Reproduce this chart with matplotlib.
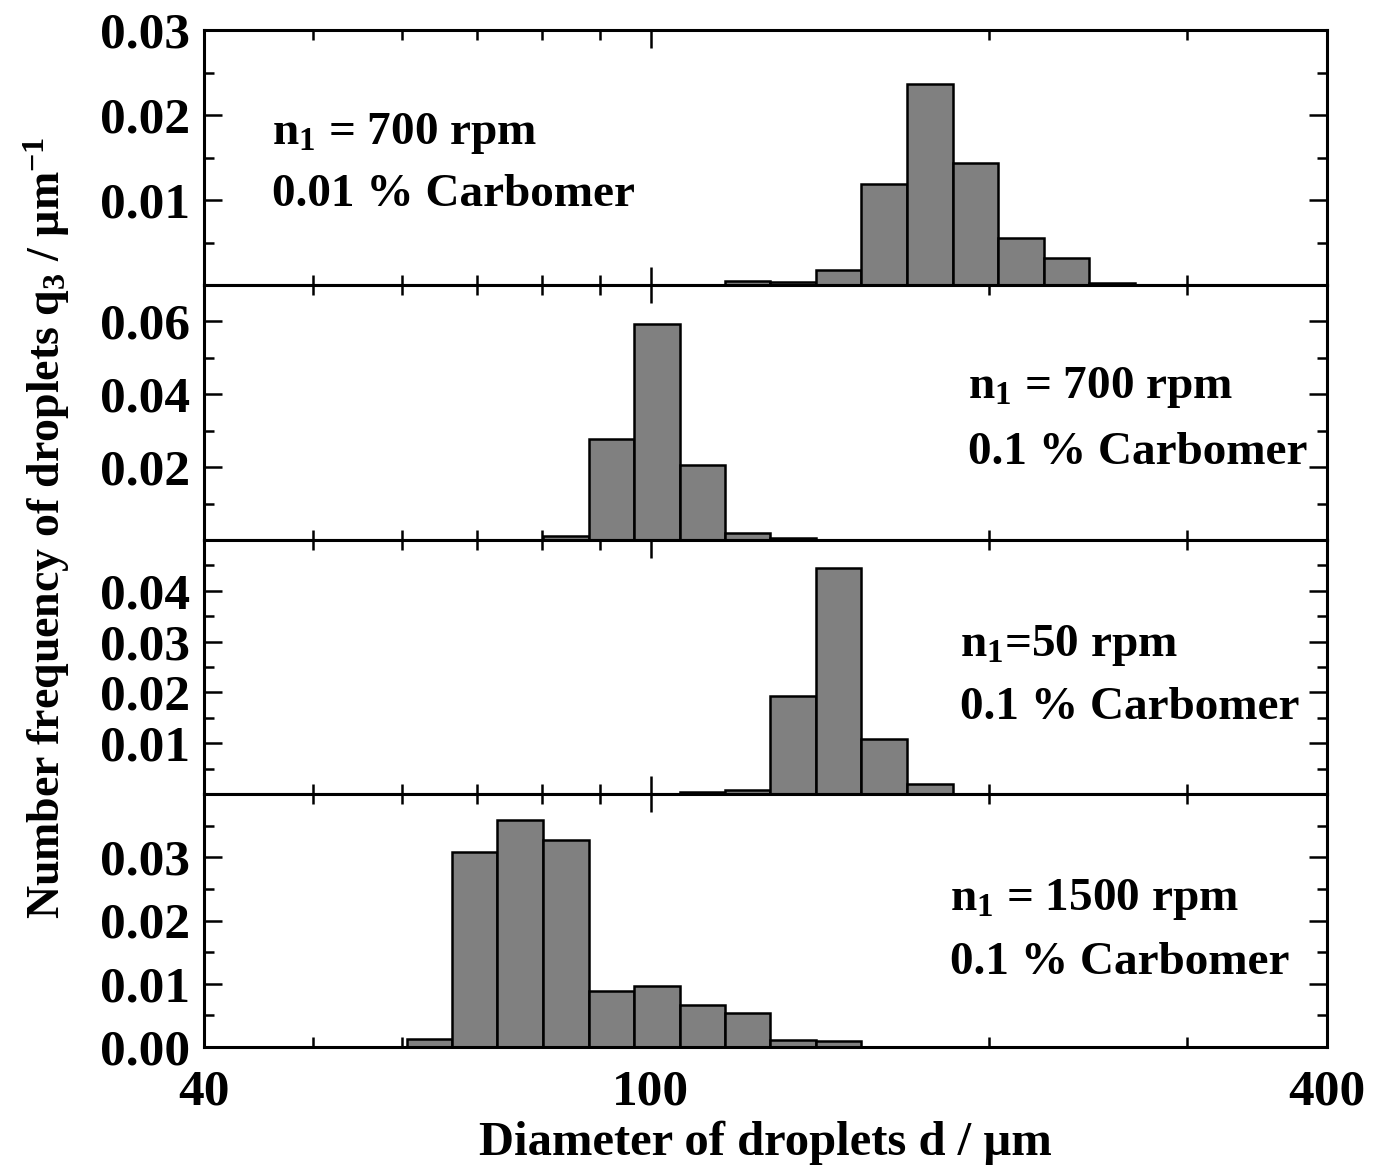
import numpy as np
import matplotlib
matplotlib.use("Agg")
import matplotlib.pyplot as plt
from matplotlib.ticker import FixedLocator, NullFormatter, MultipleLocator, FormatStrFormatter

plt.rcParams['font.family'] = ['Liberation Serif', 'DejaVu Serif']
plt.rcParams['font.weight'] = 'bold'
plt.rcParams['mathtext.default'] = 'regular'

# bin edges of droplet diameter, um (log spaced)
edges = [60.6, 66.5, 72.9, 80.1, 88.1, 96.6, 106.2, 116.4, 127.7, 140.3,
         154.0, 169.1, 185.8, 203.7, 223.9, 245.6, 269.8]

# number frequency q3 per bin, 1/um
q_700_001 = [0, 0, 0, 0, 0, 0, 0, 0.0005, 0.0003, 0.0018, 0.0119, 0.0236, 0.0143, 0.0055, 0.0032, 0.0002]
q_700_01 = [0, 0, 0, 0.0011, 0.0277, 0.0592, 0.0205, 0.0020, 0.0006, 0, 0, 0, 0, 0, 0, 0]
q_50_01 = [0, 0, 0, 0, 0, 0, 0.0003, 0.0008, 0.0193, 0.0444, 0.0109, 0.0020, 0, 0, 0, 0]
q_1500_01 = [0.0012, 0.0308, 0.0359, 0.0327, 0.0089, 0.0097, 0.0067, 0.0053, 0.0011, 0.0009, 0, 0, 0, 0, 0, 0]

series = [q_700_001, q_700_01, q_50_01, q_1500_01]
ylims = [0.03, 0.07, 0.05, 0.04]
ymajor = [[0.01, 0.02, 0.03], [0.02, 0.04, 0.06], [0.01, 0.02, 0.03, 0.04], [0.0, 0.01, 0.02, 0.03]]
yminor = [0.005, 0.01, 0.005, 0.005]
labels = [("n$_1$ = 700 rpm", "0.01 % Carbomer"),
          ("n$_1$ = 700 rpm", "0.1 % Carbomer"),
          ("n$_1$=50 rpm", "0.1 % Carbomer"),
          ("n$_1$ = 1500 rpm", "0.1 % Carbomer")]
label_pos = [(272, 133, 195), (968, 388, 453), (960, 645, 708), (950, 900, 963)]

W, H = 1380, 1172
fig = plt.figure(figsize=(W / 100, H / 100), dpi=100)
panel_px = [30, 285, 540, 794, 1047]
left, right = 204 / W, 1327 / W

edges_arr = np.array(edges)
widths = np.diff(edges_arr)

for i in range(4):
    top_px, bot_px = panel_px[i], panel_px[i + 1]
    ax = fig.add_axes([left, 1 - bot_px / H, right - left, (bot_px - top_px) / H])
    vals = np.array(series[i])
    m = vals > 0
    ax.bar(edges_arr[:-1][m], vals[m], width=widths[m], align='edge',
           color='#808080', edgecolor='black', linewidth=1.8, zorder=2)
    ax.set_xscale('log')
    ax.set_xlim(40, 400)
    ax.set_ylim(0, ylims[i])
    ax.xaxis.set_major_locator(FixedLocator([40, 100, 400]))
    ax.xaxis.set_minor_locator(FixedLocator([50, 60, 70, 80, 90, 200, 300]))
    ax.xaxis.set_minor_formatter(NullFormatter())
    ax.yaxis.set_major_locator(FixedLocator(ymajor[i]))
    ax.yaxis.set_minor_locator(MultipleLocator(yminor[i]))
    ax.yaxis.set_major_formatter(FormatStrFormatter('%.2f'))
    ax.tick_params(which='both', direction='in', top=True, right=True, labelsize=37)
    ax.tick_params(axis='y', pad=10)
    ax.tick_params(axis='x', pad=16)
    ax.tick_params(which='major', length=13, width=1.8)
    ax.tick_params(which='minor', length=7, width=1.8)
    for s in ax.spines.values():
        s.set_linewidth(2.2)
    if i < 3:
        ax.tick_params(axis='x', labelbottom=False)
    else:
        ax.set_xticklabels(['40', '100', '400'])
        ax.set_xlabel('Diameter of droplets d / µm', fontsize=35, fontweight='bold', labelpad=4)
    x_px, y1, y2 = label_pos[i]
    fig.text(x_px / W, 1 - y1 / H, labels[i][0], fontsize=34, fontweight='bold', va='center')
    fig.text(x_px / W, 1 - y2 / H, labels[i][1], fontsize=34, fontweight='bold', va='center')

fig.text(47 / W, 1 - 528 / H, 'Number frequency of droplets q$_3$ / µm$^{-1}$',
         rotation=90, fontsize=33, fontweight='bold', ha='center', va='center')

fig.savefig('out.png', dpi=100)
